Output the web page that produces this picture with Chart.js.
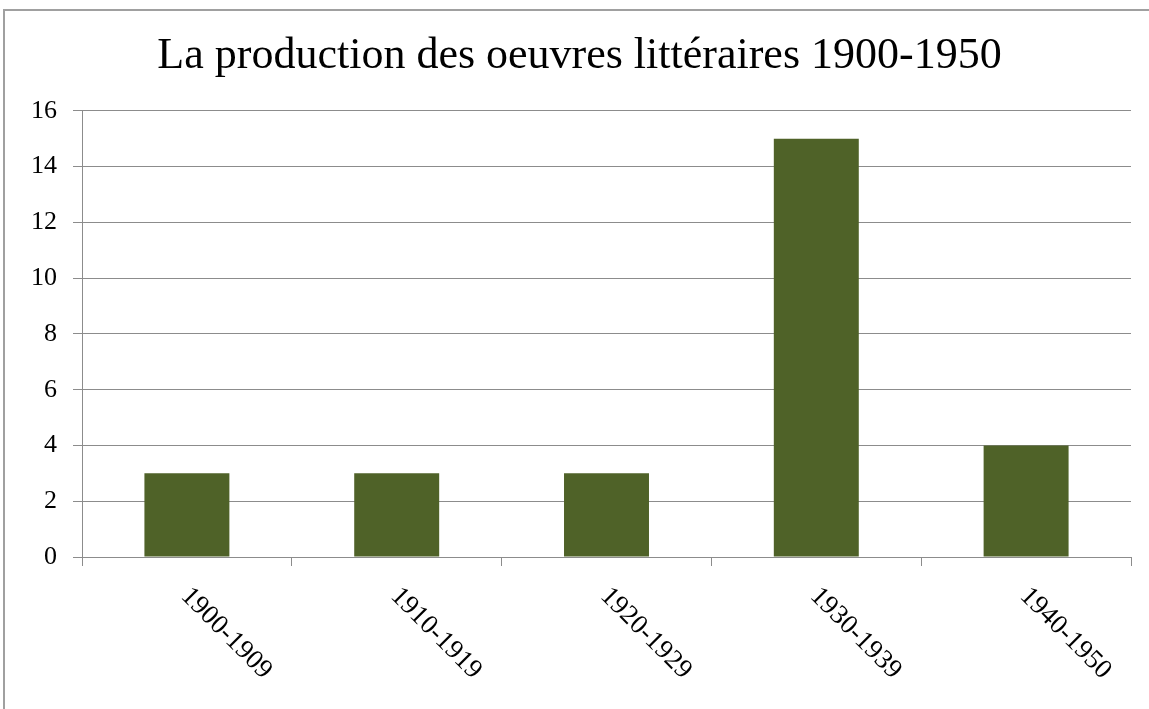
<!DOCTYPE html>
<html>
<head>
<meta charset="utf-8">
<script src="https://cdn.jsdelivr.net/npm/chart.js@4/dist/chart.umd.min.js"></script>
<style>
    html, body { margin: 0; padding: 0; background: #fff; overflow: hidden; }
    .frame {
        position: absolute; left: 3px; top: 9px; width: 2000px; height: 2000px;
        border-left: 2px solid #a0a0a0; border-top: 2px solid #a0a0a0;
    }
    .wrap { position: absolute; left: 0; top: 0; width: 1149px; height: 709px; }
</style>
</head>
<body>
<div class="frame"></div>
<div class="wrap"><canvas id="chart" width="1149" height="709"></canvas></div>
<script>
// chart data
const periods = ['1900-1909', '1910-1919', '1920-1929', '1930-1939', '1940-1950'];
const oeuvres = [3, 3, 3, 15, 4];
const yTicks = [0, 2, 4, 6, 8, 10, 12, 14, 16];

const serif = '"Liberation Serif", "Times New Roman", serif';
const gridGray = '#8c8c8c';

// x labels are rotated clockwise (45deg down to the right), which Chart.js won't do natively
const slantedLabels = {
    id: 'slantedLabels',
    afterDraw(chart) {
        const xs = chart.scales.x;
        const ctx = chart.ctx;
        ctx.save();
        ctx.font = '27px ' + serif;
        ctx.fillStyle = '#000';
        ctx.textAlign = 'left';
        ctx.textBaseline = 'middle';
        periods.forEach((p, i) => {
            ctx.save();
            ctx.translate(xs.getPixelForValue(i) - 2, xs.top + 35);
            ctx.rotate(Math.PI / 4);
            ctx.fillText(p, 0, 0);
            ctx.restore();
        });
        ctx.restore();
    }
};

new Chart(document.getElementById('chart').getContext('2d'), {
    type: 'bar',
    data: {
        labels: periods,
        datasets: [{
            label: 'Oeuvres',
            data: oeuvres,
            backgroundColor: '#4F6228',
            borderWidth: 0,
            categoryPercentage: 1,
            barPercentage: 0.405
        }]
    },
    options: {
        responsive: false,
        animation: false,
        // left padding nudges the title to the right like in the original
        layout: { padding: { left: 28, right: 18, top: 0, bottom: 0 } },
        scales: {
            x: {
                offset: true,
                grid: { offset: true, drawOnChartArea: false, color: gridGray, tickLength: 9 },
                border: { color: gridGray, width: 1 },
                ticks: { display: false },
                afterFit(scale) { scale.height = 152; }
            },
            y: {
                min: 0,
                max: 16,
                afterBuildTicks(scale) { scale.ticks = yTicks.map(v => ({ value: v })); },
                grid: { color: gridGray, tickLength: 9 },
                border: { color: gridGray, width: 1 },
                ticks: { color: '#000', padding: 16, font: { family: serif, size: 26 } },
                afterFit(scale) { scale.width = 54; }
            }
        },
        plugins: {
            legend: { display: false },
            tooltip: { enabled: false },
            title: {
                display: true,
                text: 'La production des oeuvres littéraires 1900-1950',
                color: '#000',
                font: { family: serif, size: 44, weight: 'normal' },
                padding: { top: 30, bottom: 28 }
            }
        }
    },
    plugins: [slantedLabels]
});
</script>
</body>
</html>
